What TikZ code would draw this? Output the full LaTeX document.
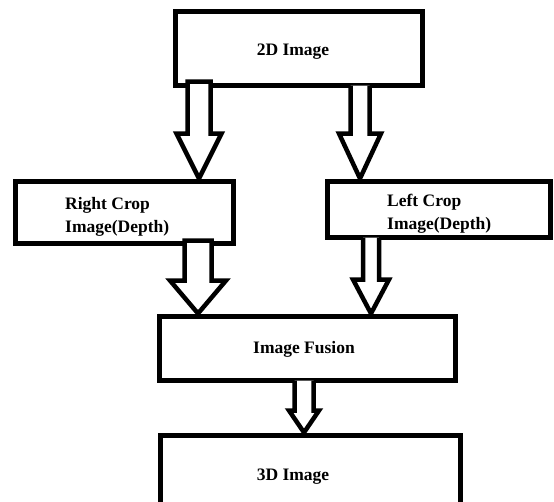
\documentclass[tikz,border=0pt]{standalone}
\usepackage{fontspec}
\setmainfont{Liberation Serif}
\usetikzlibrary{calc}

% hollow block arrow: [path end], start point, tip point, shaft half width, head half width, head length
\newcommand\blockarrow[6][]{%
  \draw[arrowline] let \p1=(#2), \p2=(#3) in
    (\x1-#4,\y1) -- (\x1-#4,\y2+#6) -- (\x1-#5,\y2+#6) -- (\x1,\y2)
    -- (\x1+#5,\y2+#6) -- (\x1+#4,\y2+#6) -- (\x1+#4,\y1) #1;}

\begin{document}
\begin{tikzpicture}[x=1pt,y=-1pt,
  stage/.style={draw=black,line width=5pt,fill=white,inner sep=0pt,outer sep=0pt,line join=miter},
  arrowline/.style={draw=black,line width=4.5pt,fill=white,line join=miter,miter limit=4},
  label/.style={inner sep=0pt,font=\bfseries\fontsize{17.5}{22.5}\selectfont,text=black}]
  \useasboundingbox (0,0) rectangle (554,501);
  \clip (0,0) rectangle (554,501);

  % processing stages
  \node[stage,minimum width=247pt,minimum height=74pt] (top) at (299,48.5) {};
  \node[stage,minimum width=218pt,minimum height=62pt] (rc) at (124.5,212.5) {};
  \node[stage,minimum width=223pt,minimum height=56pt] (lc) at (439,209.5) {};
  \node[stage,minimum width=296pt,minimum height=64pt] (fu) at (307.5,348.5) {};
  \node[stage,minimum width=300pt,minimum height=80pt] (out) at (310.5,475.5) {};

  % stage captions (multi-line captions are anchored on their last line)
  \node[label,anchor=base] (t2d) at (293,55) {2D Image};
  \node[label,anchor=base west,align=left] (trc) at (65,232) {Right Crop\\Image(Depth)};
  \node[label,anchor=base west,align=left] (tlc) at (387,229) {Left Crop\\Image(Depth)};
  \node[label,anchor=base] (tfu) at (304,353) {Image Fusion};
  \node[label,anchor=base] (t3d) at (293,480) {3D Image};

  % x positions of the block arrows
  \coordinate (ax1) at (199,0);
  \coordinate (ax2) at (360,0);
  \coordinate (ax3) at (198,0);
  \coordinate (ax4) at (371,0);
  \coordinate (ax5) at (304,0);

  % block arrows between stages
  \blockarrow[-- cycle]{$(ax1 |- top.south)+(0,-4)$}{$(ax1 |- rc.north)+(0,-3)$}{11.5pt}{22.5pt}{45pt}
  \blockarrow{ax2 |- top.south}{$(ax2 |- lc.north)+(0,-3)$}{9.5pt}{21pt}{45pt}
  \blockarrow[-- cycle]{$(ax3 |- rc.south)+(0,-3)$}{$(ax3 |- fu.north)+(0,-3)$}{13.5pt}{28pt}{33pt}
  \blockarrow{ax4 |- lc.south}{$(ax4 |- fu.north)+(0,-3)$}{8pt}{18pt}{34pt}
  \blockarrow{ax5 |- fu.south}{$(ax5 |- out.north)+(0,-3)$}{9.5pt}{15pt}{22pt}
\end{tikzpicture}
\end{document}
